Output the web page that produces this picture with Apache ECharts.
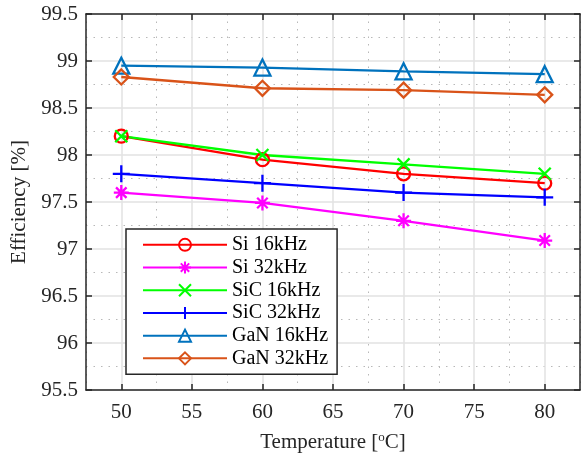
<!DOCTYPE html>
<html>
<head>
<meta charset="utf-8">
<script src="https://cdn.jsdelivr.net/npm/echarts@6/dist/echarts.min.js"></script>
<style>
html,body{margin:0;padding:0;background:#fff;}
#c{width:581px;height:462px;}
</style>
</head>
<body>
<div id="c"></div>
<script>
var temps = [50, 60, 70, 80];
var si16  = [98.20, 97.95, 97.80, 97.70];
var si32  = [97.60, 97.49, 97.30, 97.09];
var sic16 = [98.20, 98.00, 97.90, 97.80];
var sic32 = [97.80, 97.70, 97.60, 97.55];
var gan16 = [98.95, 98.93, 98.89, 98.86];
var gan32 = [98.83, 98.71, 98.69, 98.64];
var names = ['Si 16kHz', 'Si 32kHz', 'SiC 16kHz', 'SiC 32kHz', 'GaN 16kHz', 'GaN 32kHz'];
var xMajorTicks = [50, 55, 60, 65, 70, 75, 80];

var FONT = 'Liberation Serif';
var AX = '#262626';

var sym = {
  plus: 'path://M0,-1L0,1M-1,0L1,0',
  cross: 'path://M-1,-1L1,1M-1,1L1,-1',
  star: 'path://M0,-1L0,1M-1,0L1,0M-0.7,-0.7L0.7,0.7M-0.7,0.7L0.7,-0.7'
};

function pairs(vals){ return temps.map(function(t,i){ return [t, vals[i]]; }); }

function mk(name, vals, color, symbol, size){
  return {
    name: name, type: 'line', data: pairs(vals),
    xAxisIndex: 0, yAxisIndex: 0,
    symbol: symbol, symbolSize: size,
    showSymbol: true,
    lineStyle: {color: color, width: 2.3},
    itemStyle: {color: 'rgba(0,0,0,0)', borderColor: color, borderWidth: 2.3},
    emphasis: {disabled: true},
    z: 3
  };
}

var chart = echarts.init(document.getElementById('c'), null, {renderer: 'canvas'});
chart.setOption({
  animation: false,
  backgroundColor: '#fff',
  grid: {left: 86, right: 1, top: 14, bottom: 72, containLabel: false},
  xAxis: [
    {
      type: 'value', position: 'bottom', min: 47.5, max: 82.5,
      name: 'Temperature [{s|o}C]', nameLocation: 'middle', nameGap: 41,
      nameTextStyle: {fontFamily: FONT, fontSize: 21, color: AX,
        rich: {s: {fontFamily: FONT, fontSize: 13, color: AX, padding: [0,0,10,0]}}},
      axisLine: {show: true, lineStyle: {color: AX, width: 1.5}},
      axisTick: {show: true, inside: true, length: 6, customValues: xMajorTicks, lineStyle: {color: AX, width: 1.5}},
      axisLabel: {show: true, customValues: xMajorTicks, margin: 12, fontFamily: FONT, fontSize: 21, color: AX},
      splitLine: {show: true, lineStyle: {color: '#e2e2e2', width: 1.5}}
    },
    {
      type: 'value', position: 'top', min: 47.5, max: 82.5,
      axisLine: {show: true, lineStyle: {color: AX, width: 1.5}},
      axisTick: {show: true, inside: true, length: 6, customValues: xMajorTicks, lineStyle: {color: AX, width: 1.5}},
      axisLabel: {show: false},
      splitLine: {show: false}
    },
    {
      type: 'value', position: 'bottom', min: 47.5, max: 82.5, interval: 5,
      axisLine: {show: false}, axisTick: {show: false}, axisLabel: {show: false},
      splitLine: {show: true, lineStyle: {color: '#b8b8b8', width: 1, type: [1.5, 6]}}
    }
  ],
  yAxis: [
    {
      type: 'value', position: 'left', min: 95.5, max: 99.5, interval: 0.5,
      name: 'Efficiency [%]', nameLocation: 'middle', nameGap: 52,
      nameTextStyle: {fontFamily: FONT, fontSize: 21, color: AX},
      axisLine: {show: true, lineStyle: {color: AX, width: 1.5}},
      axisTick: {show: true, inside: true, length: 6, lineStyle: {color: AX, width: 1.5}},
      axisLabel: {show: true, margin: 8, fontFamily: FONT, fontSize: 21, color: AX},
      splitLine: {show: true, lineStyle: {color: '#e2e2e2', width: 1.5}},
      minorTick: {show: false, splitNumber: 2},
      minorSplitLine: {show: true, lineStyle: {color: '#b8b8b8', width: 1, type: [1.5, 6]}}
    },
    {
      type: 'value', position: 'right', min: 95.5, max: 99.5, interval: 0.5,
      axisLine: {show: true, lineStyle: {color: AX, width: 1.5}},
      axisTick: {show: true, inside: true, length: 6, lineStyle: {color: AX, width: 1.5}},
      axisLabel: {show: false},
      splitLine: {show: false}
    }
  ],
  legend: {
    show: true, orient: 'vertical', left: 126, top: 229,
    data: names,
    backgroundColor: '#fff', borderColor: AX, borderWidth: 1.5,
    padding: [4.5, 9, 4.5, 16],
    itemWidth: 84, itemHeight: 15, itemGap: 0,
    textStyle: {fontFamily: FONT, fontSize: 20, color: '#000', lineHeight: 22.7},
    selectedMode: false
  },
  series: [
    mk(names[0], si16, '#ff0000', 'circle', 13),
    mk(names[1], si32, '#ff00ff', sym.star, 15),
    mk(names[2], sic16, '#00ff00', sym.cross, 12),
    mk(names[3], sic32, '#0000ff', sym.plus, 17),
    mk(names[4], gan16, '#0072bd', 'triangle', 16),
    mk(names[5], gan32, '#d95319', 'diamond', 15)
  ]
});
</script>
</body>
</html>
